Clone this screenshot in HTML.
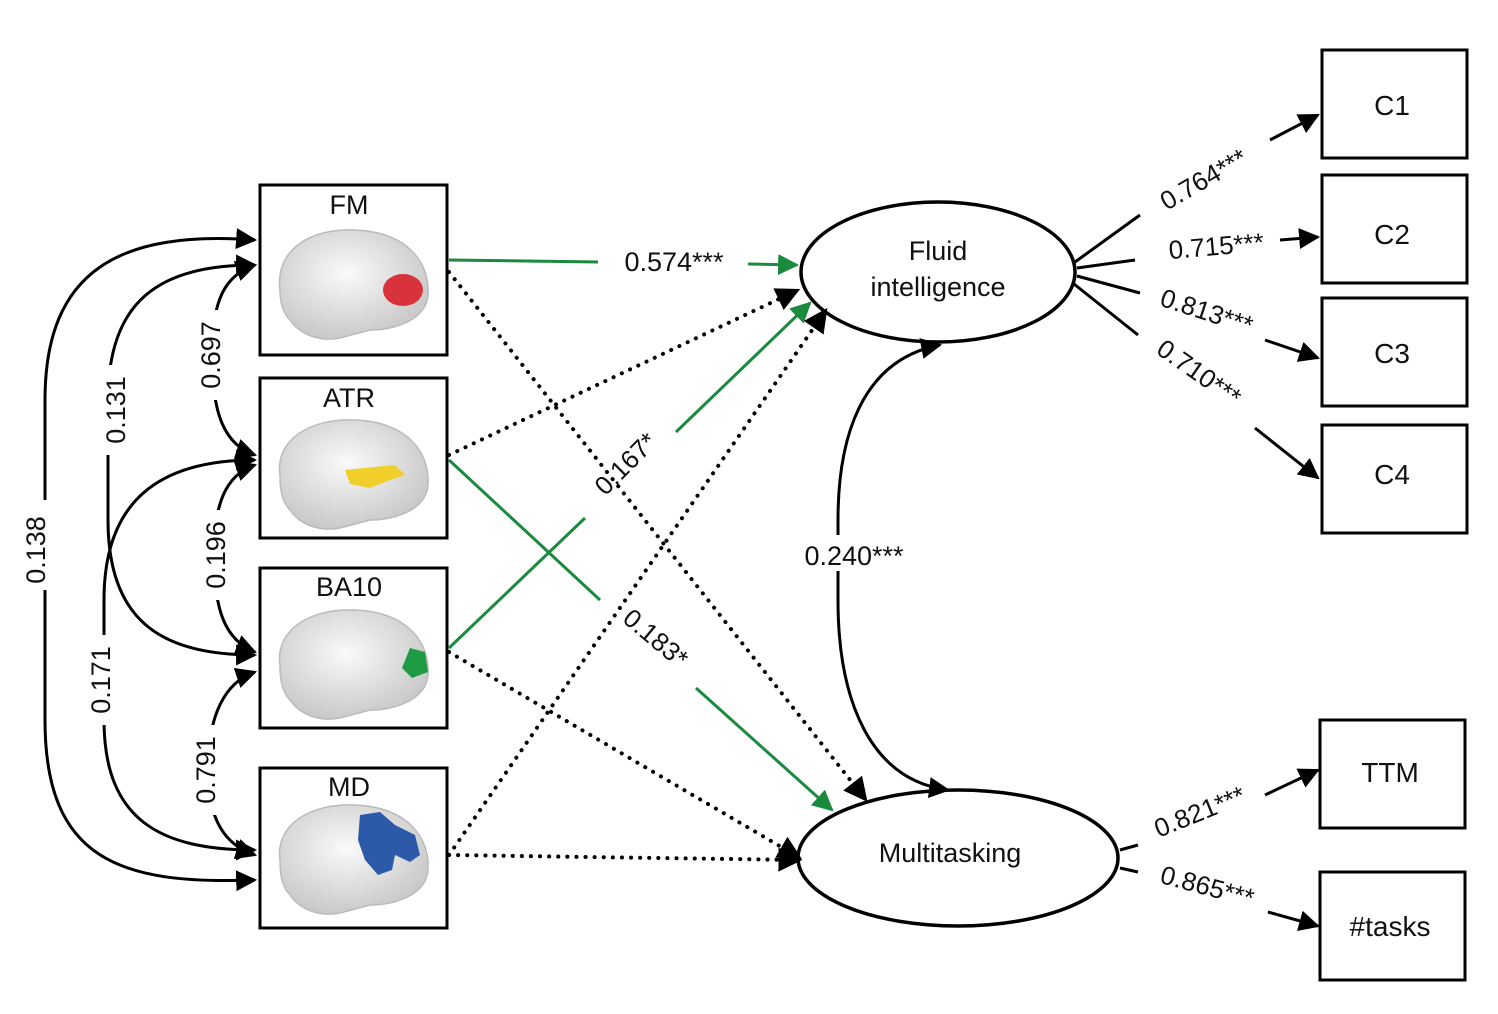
<!DOCTYPE html>
<html><head><meta charset="utf-8"><style>
html,body{margin:0;padding:0;background:#fff}
svg{display:block}
text{font-family:"Liberation Sans",Arial,sans-serif;fill:#111}
</style></head><body>
<svg width="1498" height="1014" viewBox="0 0 1498 1014" xmlns="http://www.w3.org/2000/svg">
<defs>
<marker id="a" viewBox="0 0 10 10" refX="9" refY="5" markerWidth="7" markerHeight="7" orient="auto-start-reverse"><path d="M0,0 L10,5 L0,10 z" fill="#000"/></marker>
<marker id="d" viewBox="0 0 10 10" refX="9" refY="5" markerWidth="6" markerHeight="6" orient="auto-start-reverse"><path d="M0,0 L10,5 L0,10 z" fill="#000"/></marker>
<marker id="g" viewBox="0 0 10 10" refX="9" refY="5" markerWidth="7" markerHeight="7" orient="auto-start-reverse"><path d="M0,0 L10,5 L0,10 z" fill="#1a8a3e"/></marker>
<radialGradient id="br" cx="45%" cy="40%" r="60%"><stop offset="0" stop-color="#fafafa"/><stop offset="1" stop-color="#c9c9c9"/></radialGradient>
</defs>

<g fill="#fff" stroke="#000" stroke-width="3">
<rect x="260" y="185" width="187" height="170"/>
<rect x="260" y="378" width="187" height="160"/>
<rect x="260" y="568" width="187" height="160"/>
<rect x="260" y="768" width="187" height="160"/>
</g>
<g font-size="27" text-anchor="middle">
<text x="349" y="214">FM</text><text x="349" y="407">ATR</text><text x="349" y="596">BA10</text><text x="349" y="796">MD</text>
</g>
<g stroke="#bbb" stroke-width="1.5" fill="url(#br)">
<path d="M280,290 C275,250 310,228 355,230 C405,232 430,260 428,295 C426,320 395,330 370,330 L340,338 C320,342 300,335 290,320 C282,312 280,300 280,290z"/>
<path d="M280,475 C275,440 310,418 355,420 C405,422 430,450 428,485 C426,510 395,520 370,520 L340,528 C320,532 300,525 290,510 C282,502 280,490 280,475z"/>
<path d="M280,665 C275,630 310,608 355,610 C405,612 430,640 428,675 C426,700 395,710 370,710 L340,718 C320,722 300,715 290,700 C282,692 280,680 280,665z"/>
<path d="M280,860 C275,825 310,803 355,805 C405,807 430,835 428,870 C426,895 395,905 370,905 L340,913 C320,917 300,910 290,895 C282,887 280,875 280,860z"/>
</g>
<ellipse cx="403" cy="290" rx="20" ry="16" fill="#d8333a"/>
<path d="M345,470 L395,465 L405,475 L385,482 L370,488 L350,484z" fill="#f0cf2a"/>
<path d="M410,648 L425,652 L428,672 L412,678 L402,668z" fill="#1f9a45"/>
<path d="M360,815 L380,812 L395,825 L415,835 L420,855 L410,862 L395,855 L392,870 L378,875 L365,860 L358,840z" fill="#2d5aa8"/>

<ellipse cx="938" cy="272" rx="137" ry="70" fill="#fff" stroke="#000" stroke-width="3.5"/>
<ellipse cx="958" cy="858" rx="160" ry="68" fill="#fff" stroke="#000" stroke-width="3.5"/>
<text x="938" y="260" font-size="27" text-anchor="middle">Fluid</text>
<text x="938" y="296" font-size="27" text-anchor="middle">intelligence</text>
<text x="950" y="862" font-size="27" text-anchor="middle">Multitasking</text>

<g fill="#fff" stroke="#000" stroke-width="3">
<rect x="1322" y="50" width="145" height="108"/>
<rect x="1322" y="175" width="145" height="108"/>
<rect x="1322" y="298" width="145" height="108"/>
<rect x="1322" y="425" width="145" height="108"/>
<rect x="1320" y="720" width="145" height="108"/>
<rect x="1320" y="872" width="145" height="108"/>
</g>
<g font-size="28" text-anchor="middle">
<text x="1392" y="115">C1</text><text x="1392" y="244">C2</text><text x="1392" y="363">C3</text><text x="1392" y="484">C4</text>
<text x="1390" y="782">TTM</text><text x="1390" y="936">#tasks</text>
</g>

<g stroke="#1a8a3e" stroke-width="3" fill="none">
<line x1="449" y1="260" x2="598" y2="262"/>
<line x1="748" y1="264" x2="797" y2="265" marker-end="url(#g)"/>
<line x1="449" y1="648" x2="585" y2="518"/>
<line x1="676" y1="432" x2="810" y2="303" marker-end="url(#g)"/>
<line x1="449" y1="460" x2="600" y2="600"/>
<line x1="696" y1="688" x2="832" y2="810" marker-end="url(#g)"/>
</g>
<g stroke="#000" stroke-width="4" stroke-dasharray="0.1,9" stroke-linecap="round" fill="none">
<line x1="449" y1="455" x2="798" y2="290" marker-end="url(#d)"/>
<line x1="449" y1="855" x2="826" y2="310" marker-end="url(#d)"/>
<line x1="449" y1="272" x2="866" y2="800" marker-end="url(#d)"/>
<line x1="449" y1="652" x2="800" y2="858" marker-end="url(#d)"/>
<line x1="449" y1="855" x2="800" y2="860" marker-end="url(#d)"/>
</g>
<text x="674" y="271" font-size="27" text-anchor="middle">0.574***</text>
<text transform="translate(632,470) rotate(-45)" font-size="26" text-anchor="middle">0.167*</text>
<text transform="translate(650,645) rotate(40)" font-size="26" text-anchor="middle">0.183*</text>

<g stroke="#000" stroke-width="3" fill="none">
<path d="M255,240 C120,230 45,270 45,400 L45,720 C45,860 120,885 255,880" marker-start="url(#a)" marker-end="url(#a)"/>
<path d="M255,265 C160,265 108,300 108,400 L108,520 C108,620 160,655 255,655" marker-start="url(#a)" marker-end="url(#a)"/>
<path d="M255,460 C160,460 104,500 104,600 L104,720 C104,820 160,850 255,850" marker-start="url(#a)" marker-end="url(#a)"/>
<path d="M255,265 C225,275 212,300 212,355 C212,415 225,445 255,455" marker-start="url(#a)" marker-end="url(#a)"/>
<path d="M255,465 C225,475 214,505 214,555 C214,610 225,640 255,652" marker-start="url(#a)" marker-end="url(#a)"/>
<path d="M255,672 C225,682 208,715 208,770 C208,820 225,845 255,855" marker-start="url(#a)" marker-end="url(#a)"/>
<path d="M940,345 C860,360 838,440 838,520 L838,600 C838,700 870,780 948,790" marker-start="url(#a)" marker-end="url(#a)"/>
</g>
<g font-size="27" text-anchor="middle">
<rect x="20" y="500" width="30" height="90" fill="#fff"/>
<text transform="translate(45,550) rotate(-90)">0.138</text>
<rect x="100" y="365" width="30" height="90" fill="#fff"/>
<text transform="translate(125,410) rotate(-90)">0.131</text>
<rect x="85" y="635" width="30" height="90" fill="#fff"/>
<text transform="translate(110,680) rotate(-90)">0.171</text>
<rect x="195" y="310" width="30" height="90" fill="#fff"/>
<text transform="translate(220,355) rotate(-90)">0.697</text>
<rect x="200" y="510" width="30" height="90" fill="#fff"/>
<text transform="translate(225,555) rotate(-90)">0.196</text>
<rect x="190" y="725" width="30" height="90" fill="#fff"/>
<text transform="translate(215,770) rotate(-90)">0.791</text>
<rect x="795" y="535" width="120" height="36" fill="#fff"/>
<text x="854" y="565">0.240***</text>
</g>

<g stroke="#000" stroke-width="3" fill="none">
<line x1="1075" y1="262" x2="1140" y2="215"/>
<line x1="1270" y1="140" x2="1318" y2="115" marker-end="url(#a)"/>
<line x1="1077" y1="268" x2="1135" y2="260"/>
<line x1="1280" y1="240" x2="1318" y2="237" marker-end="url(#a)"/>
<line x1="1077" y1="276" x2="1140" y2="293"/>
<line x1="1265" y1="340" x2="1318" y2="358" marker-end="url(#a)"/>
<line x1="1074" y1="284" x2="1138" y2="335"/>
<line x1="1255" y1="428" x2="1318" y2="478" marker-end="url(#a)"/>
<line x1="1120" y1="850" x2="1138" y2="845"/>
<line x1="1265" y1="795" x2="1318" y2="770" marker-end="url(#a)"/>
<line x1="1120" y1="868" x2="1138" y2="872"/>
<line x1="1268" y1="912" x2="1318" y2="926" marker-end="url(#a)"/>
</g>
<g font-size="26" text-anchor="middle">
<text transform="translate(1208,187) rotate(-30)">0.764***</text>
<text transform="translate(1217,255) rotate(-5)">0.715***</text>
<text transform="translate(1204,320) rotate(18)">0.813***</text>
<text transform="translate(1194,380) rotate(35)">0.710***</text>
<text transform="translate(1203,820) rotate(-22)">0.821***</text>
<text transform="translate(1205,895) rotate(15)">0.865***</text>
</g>
</svg>
</body></html>
